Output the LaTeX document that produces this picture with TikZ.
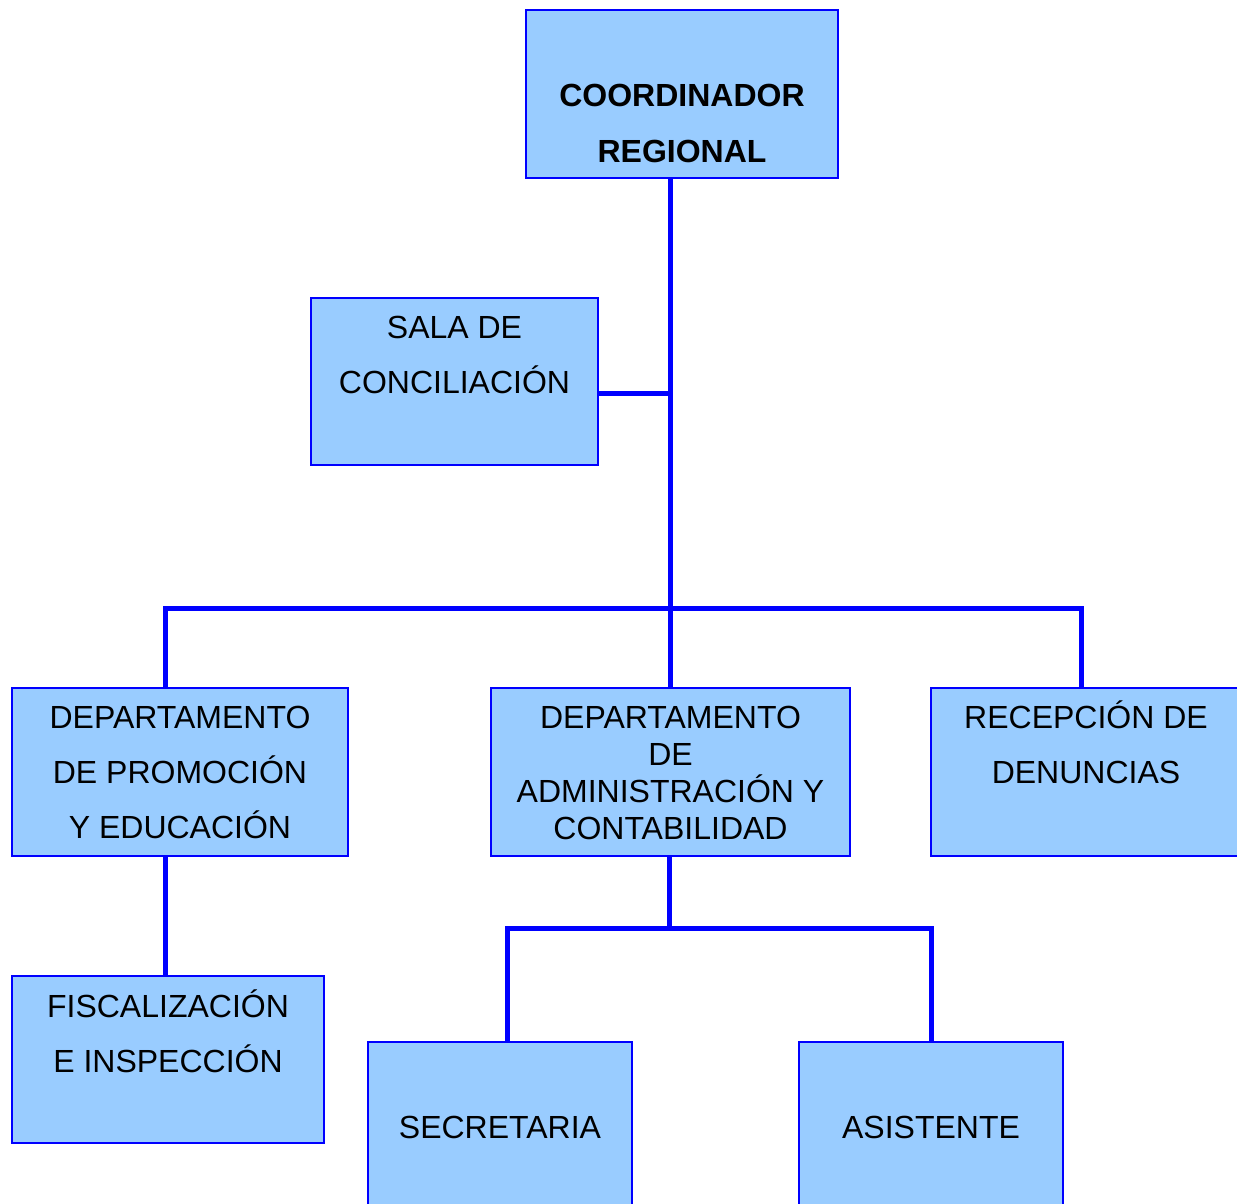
\documentclass[tikz,border=0pt]{standalone}
\usepackage{fontspec}
\setmainfont{Liberation Sans}
\definecolor{celeste}{RGB}{153,204,255}
\definecolor{azul}{RGB}{0,0,255}
\tikzset{
  caja/.style={draw=azul, line width=1.5pt, fill=celeste, rectangle, inner sep=0pt},
  texto/.style={anchor=north, inner sep=0pt, align=center, font=\fontsize{32}{55}\selectfont},
  linea/.style={draw=azul, line width=5pt},
}
\begin{document}
\begin{tikzpicture}[x=1pt, y=-1pt]
        \useasboundingbox (0,0) rectangle (1237,1204);
        \clip (0,0) rectangle (1237,1204);
        % first level
        \node[caja, minimum width=312pt, minimum height=168pt, label={[texto, yshift=-57.5pt, font=\fontsize{32}{56}\selectfont\bfseries]north:{\strut COORDINADOR\\REGIONAL}}] (coord) at (682,94) {};
        \node[caja, minimum width=287pt, minimum height=167pt, label={[texto, yshift=-3pt]north:{\strut SALA DE\\CONCILIACIÓN}}] (sala) at (454.5,381.5) {};
        % departments
        \node[caja, minimum width=336pt, minimum height=168pt, label={[texto, yshift=-3pt]north:{\strut DEPARTAMENTO\\DE PROMOCIÓN\\Y EDUCACIÓN}}] (promo) at (180,772) {};
        \node[caja, minimum width=359pt, minimum height=168pt, label={[texto, yshift=-15pt, font=\fontsize{32}{37}\selectfont]north:{\strut DEPARTAMENTO\\DE\\ADMINISTRACIÓN Y\\CONTABILIDAD}}] (admin) at (670.5,772) {};
        \node[caja, minimum width=310pt, minimum height=168pt, label={[texto, yshift=-3pt]north:{\strut RECEPCIÓN DE\\DENUNCIAS}}] (recep) at (1086,772) {};
        % below
        \node[caja, minimum width=312pt, minimum height=167pt, label={[texto, yshift=-3.5pt]north:{\strut FISCALIZACIÓN\\E INSPECCIÓN}}] (fisc) at (168,1059.5) {};
        \node[caja, minimum width=264pt, minimum height=168pt, label={[texto, yshift=-58.5pt]north:{\strut SECRETARIA}}] (secr) at (500,1126) {};
        \node[caja, minimum width=264pt, minimum height=168pt, label={[texto, yshift=-58.5pt]north:{\strut ASISTENTE}}] (asis) at (931,1126) {};
        % joints
        \coordinate (nudo0) at (670,393);
        \coordinate (nudo1) at (670,608);
        \coordinate (izq) at (165,608);
        \coordinate (der) at (1081,608);
        \coordinate (nudo2) at (669,928);
        \coordinate (izq2) at (507,928);
        \coordinate (der2) at (931,928);
        % lines
        \draw[linea] (coord.south -| nudo1) -- (nudo1) -- (nudo1 |- admin.north);
        \draw[linea] (nudo0 -| sala.east) -- (nudo0);
        \draw[linea] (izq |- promo.north) -- (izq) -- (der) -- (der |- recep.north);
        \draw[linea] (promo.south -| izq) -- (izq |- fisc.north);
        \draw[linea] (admin.south -| nudo2) -- (nudo2);
        \draw[linea] (izq2 |- secr.north) -- (izq2) -- (der2) -- (der2 |- asis.north);
\end{tikzpicture}
\end{document}
